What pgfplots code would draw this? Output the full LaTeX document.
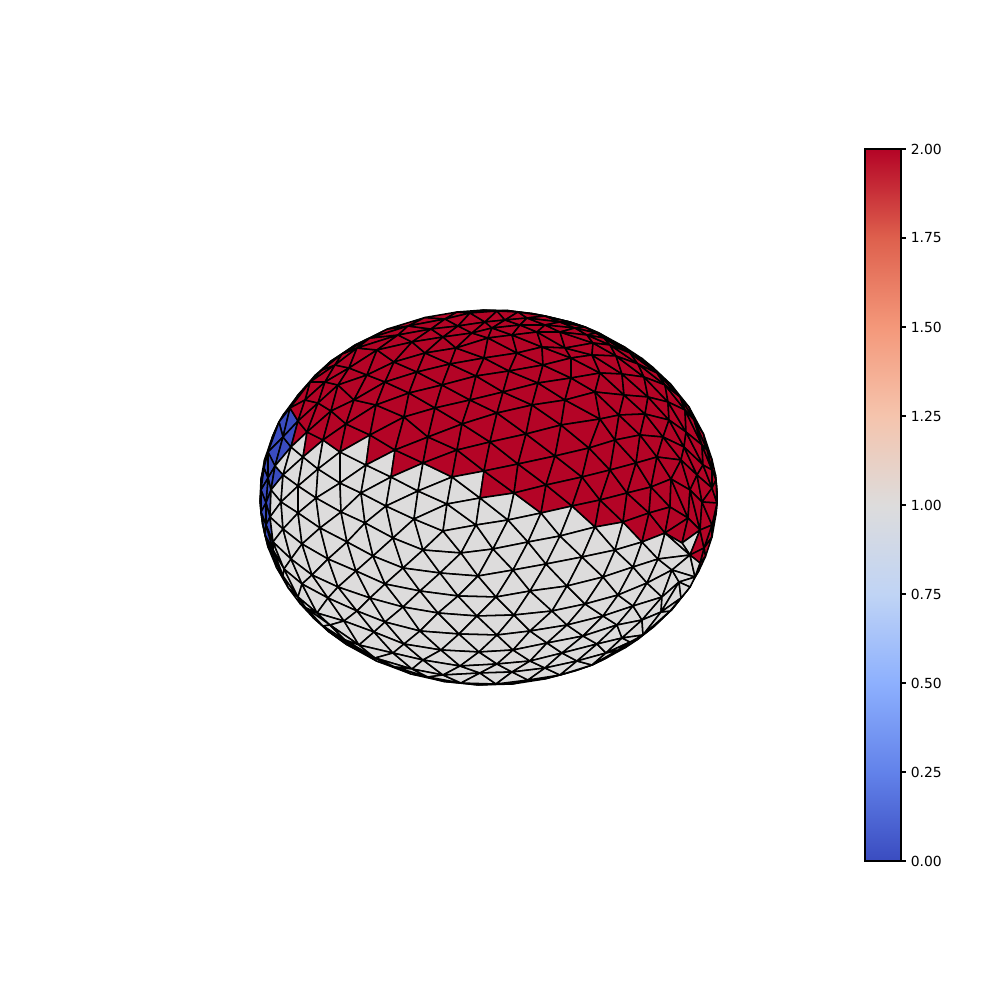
\documentclass[border=0pt]{standalone}
\usepackage{fontspec}
\setmainfont{DejaVu Sans}
\usepackage{pgfplots}
\pgfplotsset{compat=1.18}
\usepackage{pgfplotstable}
\pgfplotsset{colormap={coolwarmcm}{rgb255=(58,76,192) rgb255=(98,130,234) rgb255=(141,176,254) rgb255=(192,212,245) rgb255=(221,220,220) rgb255=(245,196,173) rgb255=(244,152,122) rgb255=(222,96,77) rgb255=(180,4,38)}}
\begin{document}
\begin{tikzpicture}
\path[use as bounding box] (0,0) rectangle (10in,10in);
\begin{axis}[
  at={(0,0)},anchor=south west,
  scale only axis,width=10in,height=10in,
  xmin=0,xmax=1000,ymin=0,ymax=1000,y dir=reverse,
  hide axis,clip=false,
  colormap name=coolwarmcm,point meta min=0,point meta max=2,
]
\addplot[patch,patch type=triangle,shader=faceted,faceted color=black,line width=1.1bp,
  table/row sep=\\,
  patch table with point meta={
0 1 302 2\\ 1 302 303 2\\ 1 2 303 2\\ 2 303 304 2\\ 2 3 304 2\\ 3 304 305 2\\ 3 4 305 2\\ 4 305 306 2\\ 4 5 306 2\\ 5 306 307 2\\ 5 6 307 2\\ 6 307 308 2\\ 6 7 308 2\\ 7 308 309 2\\ 7 8 309 2\\ 8 309 310 2\\ 8 9 310 2\\ 9 310 311 2\\ 9 20 311 2\\ 20 311 312 2\\ 20 35 312 2\\ 35 312 313 2\\ 35 52 313 2\\ 52 313 314 2\\ 52 68 314 2\\ 68 314 315 2\\ 68 83 315 2\\ 83 315 316 2\\ 83 98 316 2\\ 98 316 317 2\\ 98 113 317 2\\ 113 317 318 2\\ 113 128 318 2\\ 128 318 319 2\\ 128 142 319 2\\ 142 319 320 2\\ 142 156 320 2\\ 156 320 321 2\\ 156 169 321 2\\ 169 321 322 2\\ 169 180 322 2\\ 180 322 323 2\\ 180 301 323 2\\ 301 323 324 2\\ 301 214 324 2\\ 214 324 325 2\\ 214 230 325 1\\ 230 325 326 1\\ 230 246 326 1\\ 246 326 327 1\\ 246 261 327 1\\ 261 327 328 1\\ 261 274 328 1\\ 274 328 329 1\\ 274 273 329 1\\ 273 329 330 1\\ 273 285 330 1\\ 285 330 331 1\\ 285 295 331 1\\ 295 331 332 1\\ 295 294 332 1\\ 294 332 333 1\\ 294 293 333 1\\ 293 333 334 1\\ 293 292 334 1\\ 292 334 335 1\\ 292 291 335 1\\ 291 335 336 1\\ 291 290 336 1\\ 290 336 337 1\\ 290 289 337 1\\ 289 337 338 1\\ 289 288 338 1\\ 288 338 339 1\\ 288 287 339 1\\ 287 339 340 1\\ 287 286 340 1\\ 286 340 341 1\\ 286 275 341 1\\ 275 341 342 1\\ 275 262 342 1\\ 262 342 343 1\\ 262 248 343 1\\ 248 343 344 1\\ 248 247 344 1\\ 247 344 345 1\\ 247 300 345 1\\ 300 345 346 1\\ 300 299 346 0\\ 299 346 347 0\\ 299 298 347 0\\ 298 347 348 0\\ 298 297 348 0\\ 297 348 349 0\\ 297 296 349 0\\ 296 349 350 0\\ 296 36 350 0\\ 36 350 351 0\\ 36 21 351 0\\ 21 351 352 0\\ 21 22 352 0\\ 22 352 353 0\\ 22 10 353 2\\ 10 353 354 2\\ 10 0 354 2\\ 0 354 302 2\\
10 11 0 2\\ 0 1 11 2\\ 1 11 12 2\\ 1 2 12 2\\ 2 12 13 2\\ 2 3 13 2\\ 3 13 14 2\\ 3 4 14 2\\ 4 14 15 2\\ 4 5 15 2\\ 5 15 16 2\\ 5 6 16 2\\ 6 16 17 2\\ 6 7 17 2\\ 7 17 18 2\\ 7 8 18 2\\ 8 18 19 2\\ 8 9 19 2\\ 9 19 20 2\\
10 11 24 2\\ 11 24 25 2\\ 11 12 25 2\\ 12 25 26 2\\ 12 13 26 2\\ 13 26 27 2\\ 13 14 27 2\\ 14 27 28 2\\ 14 15 28 2\\ 15 28 29 2\\ 15 16 29 2\\ 16 29 30 2\\ 16 17 30 2\\ 17 30 31 2\\ 17 18 31 2\\ 18 31 32 2\\ 18 19 32 2\\ 19 32 33 2\\ 19 20 33 2\\ 20 33 34 2\\ 20 34 35 2\\ 23 24 10 2\\ 22 23 10 2\\
21 22 37 0\\ 22 37 38 0\\ 22 23 38 2\\ 23 38 39 2\\ 23 24 39 2\\ 24 39 40 2\\ 24 25 40 2\\ 25 40 41 2\\ 25 26 41 2\\ 26 41 42 2\\ 26 27 42 2\\ 27 42 43 2\\ 27 28 43 2\\ 28 43 44 2\\ 28 29 44 2\\ 29 44 45 2\\ 29 30 45 2\\ 30 45 46 2\\ 30 31 46 2\\ 31 46 47 2\\ 31 32 47 2\\ 32 47 48 2\\ 32 33 48 2\\ 33 48 49 2\\ 33 34 49 2\\ 34 49 50 2\\ 34 35 50 2\\ 35 50 51 2\\ 35 51 52 2\\ 36 37 21 0\\
36 37 53 0\\ 37 53 54 0\\ 37 38 54 0\\ 38 54 55 2\\ 38 39 55 2\\ 39 55 56 2\\ 39 40 56 2\\ 40 56 57 2\\ 40 41 57 2\\ 41 57 58 2\\ 41 42 58 2\\ 42 58 59 2\\ 42 43 59 2\\ 43 59 60 2\\ 43 44 60 2\\ 44 60 61 2\\ 44 45 61 2\\ 45 61 62 2\\ 45 46 62 2\\ 46 62 63 2\\ 46 47 63 2\\ 47 63 64 2\\ 47 48 64 2\\ 48 64 65 2\\ 48 49 65 2\\ 49 65 66 2\\ 49 50 66 2\\ 50 66 67 2\\ 50 51 67 2\\ 51 67 68 2\\ 51 52 68 2\\
53 54 69 1\\ 54 69 70 1\\ 54 55 70 1\\ 55 70 71 2\\ 55 56 71 2\\ 56 71 72 2\\ 56 57 72 2\\ 57 72 73 2\\ 57 58 73 2\\ 58 73 74 2\\ 58 59 74 2\\ 59 74 75 2\\ 59 60 75 2\\ 60 75 76 2\\ 60 61 76 2\\ 61 76 77 2\\ 61 62 77 2\\ 62 77 78 2\\ 62 63 78 2\\ 63 78 79 2\\ 63 64 79 2\\ 64 79 80 2\\ 64 65 80 2\\ 65 80 81 2\\ 65 66 81 2\\ 66 81 82 2\\ 66 67 82 2\\ 67 82 83 2\\ 67 68 83 2\\
69 70 84 1\\ 70 84 85 1\\ 70 71 85 1\\ 71 85 86 1\\ 71 72 86 2\\ 72 86 87 2\\ 72 73 87 2\\ 73 87 88 2\\ 73 74 88 2\\ 74 88 89 2\\ 74 75 89 2\\ 75 89 90 2\\ 75 76 90 2\\ 76 90 91 2\\ 76 77 91 2\\ 77 91 92 2\\ 77 78 92 2\\ 78 92 93 2\\ 78 79 93 2\\ 79 93 94 2\\ 79 80 94 2\\ 80 94 95 2\\ 80 81 95 2\\ 81 95 96 2\\ 81 82 96 2\\ 82 96 97 2\\ 82 83 97 2\\ 83 97 98 2\\
84 85 99 1\\ 85 99 100 1\\ 85 86 100 1\\ 86 100 101 1\\ 86 87 101 1\\ 87 101 102 2\\ 87 88 102 2\\ 88 102 103 2\\ 88 89 103 2\\ 89 103 104 2\\ 89 90 104 2\\ 90 104 105 2\\ 90 91 105 2\\ 91 105 106 2\\ 91 92 106 2\\ 92 106 107 2\\ 92 93 107 2\\ 93 107 108 2\\ 93 94 108 2\\ 94 108 109 2\\ 94 95 109 2\\ 95 109 110 2\\ 95 96 110 2\\ 96 110 111 2\\ 96 97 111 2\\ 97 111 112 2\\ 97 98 112 2\\ 98 112 113 2\\
99 100 114 1\\ 100 114 115 1\\ 100 101 115 1\\ 101 115 116 1\\ 101 102 116 1\\ 102 116 117 2\\ 102 103 117 2\\ 103 117 118 2\\ 103 104 118 2\\ 104 118 119 2\\ 104 105 119 2\\ 105 119 120 2\\ 105 106 120 2\\ 106 120 121 2\\ 106 107 121 2\\ 107 121 122 2\\ 107 108 122 2\\ 108 122 123 2\\ 108 109 123 2\\ 109 123 124 2\\ 109 110 124 2\\ 110 124 125 2\\ 110 111 125 2\\ 111 125 126 2\\ 111 112 126 2\\ 112 126 127 2\\ 112 113 127 2\\ 113 127 128 2\\
114 115 129 1\\ 115 129 130 1\\ 115 116 130 1\\ 116 130 131 1\\ 116 117 131 1\\ 117 131 132 1\\ 117 118 132 2\\ 118 132 133 2\\ 118 119 133 2\\ 119 133 134 2\\ 119 120 134 2\\ 120 134 135 2\\ 120 121 135 2\\ 121 135 136 2\\ 121 122 136 2\\ 122 136 137 2\\ 122 123 137 2\\ 123 137 138 2\\ 123 124 138 2\\ 124 138 139 2\\ 124 125 139 2\\ 125 139 140 2\\ 125 126 140 2\\ 126 140 141 2\\ 126 127 141 2\\ 127 141 142 2\\ 127 128 142 2\\
129 130 143 1\\ 130 143 144 1\\ 130 131 144 1\\ 131 144 145 1\\ 131 132 145 1\\ 132 145 146 1\\ 132 133 146 1\\ 133 146 147 2\\ 133 134 147 2\\ 134 147 148 2\\ 134 135 148 2\\ 135 148 149 2\\ 135 136 149 2\\ 136 149 150 2\\ 136 137 150 2\\ 137 150 151 2\\ 137 138 151 2\\ 138 151 152 2\\ 138 139 152 2\\ 139 152 153 2\\ 139 140 153 2\\ 140 153 154 2\\ 140 141 154 2\\ 141 154 155 2\\ 141 142 155 2\\ 142 155 156 2\\
143 144 157 1\\ 144 157 158 1\\ 144 145 158 1\\ 145 158 159 1\\ 145 146 159 1\\ 146 159 160 1\\ 146 147 160 1\\ 147 160 161 1\\ 147 148 161 2\\ 148 161 162 2\\ 148 149 162 2\\ 149 162 163 2\\ 149 150 163 2\\ 150 163 164 2\\ 150 151 164 2\\ 151 164 165 2\\ 151 152 165 2\\ 152 165 166 2\\ 152 153 166 2\\ 153 166 167 2\\ 153 154 167 2\\ 154 167 168 2\\ 154 155 168 2\\ 155 168 169 2\\ 155 156 169 2\\
157 158 170 1\\ 158 159 170 1\\ 159 170 171 1\\ 159 160 171 1\\ 160 171 172 1\\ 160 161 172 1\\ 161 172 173 1\\ 161 162 173 1\\ 162 173 174 1\\ 162 163 174 2\\ 163 174 175 2\\ 163 164 175 2\\ 164 175 176 2\\ 164 165 176 2\\ 165 176 177 2\\ 165 166 177 2\\ 166 177 178 2\\ 166 167 178 2\\ 167 178 179 2\\ 167 168 179 2\\ 168 179 180 2\\ 168 169 180 2\\
36 53 181 0\\ 53 181 182 0\\ 53 69 182 0\\ 69 182 183 1\\ 69 84 183 1\\ 84 183 184 1\\ 84 99 184 1\\ 99 184 185 1\\ 99 114 185 1\\ 114 185 186 1\\ 114 129 186 1\\ 129 186 187 1\\ 129 143 187 1\\ 143 187 188 1\\ 143 157 188 1\\ 157 188 189 1\\ 157 170 189 1\\ 170 189 190 1\\ 170 171 190 1\\ 171 190 191 1\\ 171 172 191 1\\ 172 191 192 1\\ 172 173 192 1\\ 173 192 193 1\\ 173 174 193 1\\ 174 193 194 1\\ 174 175 194 1\\ 175 194 195 1\\ 175 176 195 2\\ 176 195 196 2\\ 176 177 196 2\\ 177 178 196 2\\ 178 196 197 2\\ 178 179 197 2\\ 179 197 213 1\\ 179 213 301 2\\ 179 301 180 2\\ 213 301 214 2\\
181 182 198 0\\ 182 198 199 0\\ 182 183 199 1\\ 183 199 200 1\\ 183 184 200 1\\ 184 200 201 1\\ 184 185 201 1\\ 185 201 202 1\\ 185 186 202 1\\ 186 202 203 1\\ 186 187 203 1\\ 187 203 204 1\\ 187 188 204 1\\ 188 204 205 1\\ 188 189 205 1\\ 189 205 206 1\\ 189 190 206 1\\ 190 206 207 1\\ 190 191 207 1\\ 191 207 208 1\\ 191 192 208 1\\ 192 208 209 1\\ 192 193 209 1\\ 193 209 210 1\\ 193 194 210 1\\ 194 210 211 1\\ 194 195 211 1\\ 195 211 212 1\\ 195 196 212 1\\ 196 212 213 1\\ 196 197 213 1\\
198 199 215 0\\ 199 215 216 0\\ 199 200 216 1\\ 200 216 217 1\\ 200 201 217 1\\ 201 217 218 1\\ 201 202 218 1\\ 202 218 219 1\\ 202 203 219 1\\ 203 219 220 1\\ 203 204 220 1\\ 204 220 221 1\\ 204 205 221 1\\ 205 221 222 1\\ 205 206 222 1\\ 206 222 223 1\\ 206 207 223 1\\ 207 223 224 1\\ 207 208 224 1\\ 208 224 225 1\\ 208 209 225 1\\ 209 225 226 1\\ 209 210 226 1\\ 210 226 227 1\\ 210 211 227 1\\ 211 227 228 1\\ 211 212 228 1\\ 212 228 229 1\\ 212 213 229 1\\ 213 229 230 1\\ 213 214 230 1\\
215 216 231 0\\ 216 231 232 1\\ 216 217 232 1\\ 217 232 233 1\\ 217 218 233 1\\ 218 233 234 1\\ 218 219 234 1\\ 219 234 235 1\\ 219 220 235 1\\ 220 235 236 1\\ 220 221 236 1\\ 221 236 237 1\\ 221 222 237 1\\ 222 237 238 1\\ 222 223 238 1\\ 223 238 239 1\\ 223 224 239 1\\ 224 239 240 1\\ 224 225 240 1\\ 225 240 241 1\\ 225 226 241 1\\ 226 241 242 1\\ 226 227 242 1\\ 227 242 243 1\\ 227 228 243 1\\ 228 243 244 1\\ 228 229 244 1\\ 229 244 245 1\\ 229 230 245 1\\ 230 245 246 1\\
231 232 247 1\\ 232 247 248 1\\ 232 233 248 1\\ 233 248 249 1\\ 233 234 249 1\\ 234 249 250 1\\ 234 235 250 1\\ 235 250 251 1\\ 235 236 251 1\\ 236 251 252 1\\ 236 237 252 1\\ 237 252 253 1\\ 237 238 253 1\\ 238 253 254 1\\ 238 239 254 1\\ 239 254 255 1\\ 239 240 255 1\\ 240 255 256 1\\ 240 241 256 1\\ 241 256 257 1\\ 241 242 257 1\\ 242 257 258 1\\ 242 243 258 1\\ 243 258 259 1\\ 243 244 259 1\\ 244 259 260 1\\ 244 245 260 1\\ 245 260 261 1\\ 245 246 261 1\\
248 249 262 1\\ 249 262 263 1\\ 249 250 263 1\\ 250 263 264 1\\ 250 251 264 1\\ 251 264 265 1\\ 251 252 265 1\\ 252 265 266 1\\ 252 253 266 1\\ 253 266 267 1\\ 253 254 267 1\\ 254 267 268 1\\ 254 255 268 1\\ 255 268 269 1\\ 255 256 269 1\\ 256 269 270 1\\ 256 257 270 1\\ 257 270 271 1\\ 257 258 271 1\\ 258 271 272 1\\ 258 259 272 1\\ 259 272 273 1\\ 259 260 273 1\\ 260 273 274 1\\ 260 261 274 1\\
262 263 275 1\\ 263 275 276 1\\ 263 264 276 1\\ 264 276 277 1\\ 264 265 277 1\\ 265 277 278 1\\ 265 266 278 1\\ 266 278 279 1\\ 266 267 279 1\\ 267 279 280 1\\ 267 268 280 1\\ 268 280 281 1\\ 268 269 281 1\\ 269 281 282 1\\ 269 270 282 1\\ 270 282 283 1\\ 270 271 283 1\\ 271 283 284 1\\ 271 272 284 1\\ 272 284 285 1\\ 272 273 285 1\\
275 276 286 1\\ 276 286 287 1\\ 276 277 287 1\\ 277 287 288 1\\ 277 278 288 1\\ 278 288 289 1\\ 278 279 289 1\\ 279 289 290 1\\ 279 280 290 1\\ 280 290 291 1\\ 280 281 291 1\\ 281 291 292 1\\ 281 282 292 1\\ 282 292 293 1\\ 282 283 293 1\\ 283 293 294 1\\ 283 284 294 1\\ 284 294 295 1\\ 284 285 295 1\\
36 181 296 0\\ 181 296 297 0\\ 181 198 297 0\\ 198 297 298 0\\ 198 215 298 0\\ 215 298 299 0\\ 215 231 299 0\\ 231 299 300 0\\ 231 247 300 0\\
  }]
table[row sep=\\,x=x,y=y] {
x y\\
322 370\\ 342 354\\ 370 338\\ 408 326\\ 445 319\\ 470 313\\ 497 311\\ 518 312\\ 545 316\\ 570 322\\
310 382\\ 335 365\\ 357 348\\ 398 335\\ 431 329\\ 458 326\\ 485 322\\ 505 320\\ 527 318\\ 560 322\\ 585 327\\
279 422\\ 290 408\\ 305 400\\ 325 382\\ 349 368\\ 377 350\\ 412 342\\ 443 337\\ 472 333\\ 492 328\\ 520 325\\ 545 325\\ 575 328\\ 596 333\\ 612 341\\
268 452\\ 283 437\\ 298 421\\ 318 403\\ 338 385\\ 367 375\\ 394 362\\ 425 353\\ 456 348\\ 488 338\\ 512 335\\ 537 332\\ 560 332\\ 587 335\\ 604 338\\ 618 347\\ 634 356\\
275 466\\ 291 447\\ 307 432\\ 331 411\\ 354 400\\ 385 382\\ 417 372\\ 450 364\\ 484 358\\ 517 353\\ 542 347\\ 565 348\\ 593 343\\ 610 345\\ 630 353\\ 647 364\\
283 475\\ 303 457\\ 323 440\\ 346 424\\ 376 405\\ 409 393\\ 442 385\\ 476 376\\ 509 371\\ 543 365\\ 571 358\\ 592 355\\ 616 356\\ 638 364\\ 657 373\\
298 486\\ 318 469\\ 340 452\\ 370 435\\ 404 417\\ 435 408\\ 470 400\\ 503 392\\ 538 383\\ 571 378\\ 600 373\\ 622 374\\ 644 377\\ 665 385\\ 680 397\\
316 498\\ 340 483\\ 366 465\\ 395 450\\ 428 437\\ 462 424\\ 497 413\\ 532 405\\ 565 400\\ 595 392\\ 624 395\\ 648 397\\ 668 402\\ 685 410\\ 694 420\\
341 512\\ 361 493\\ 391 477\\ 423 463\\ 457 450\\ 490 442\\ 526 434\\ 561 425\\ 600 419\\ 619 415\\ 645 414\\ 669 420\\ 686 432\\ 702 445\\ 707 450\\
365 523\\ 386 506\\ 418 491\\ 452 477\\ 484 471\\ 518 464\\ 555 456\\ 589 448\\ 615 440\\ 640 435\\ 663 437\\ 684 447\\ 703 465\\ 712 470\\
393 538\\ 414 519\\ 447 504\\ 480 498\\ 514 493\\ 546 485\\ 582 477\\ 610 470\\ 636 463\\ 657 457\\ 681 460\\ 697 475\\ 712 488\\ 716 480\\
423 550\\ 443 531\\ 476 525\\ 508 520\\ 541 513\\ 572 506\\ 600 500\\ 627 493\\ 651 487\\ 671 479\\ 690 490\\ 702 502\\ 717 503\\
461 553\\ 493 549\\ 528 542\\ 560 536\\ 595 527\\ 623 522\\ 649 513\\ 670 507\\ 688 518\\ 700 530\\ 712 525\\
268 478\\ 271 490\\ 281 502\\ 298 513\\ 320 528\\ 347 542\\ 373 556\\ 403 568\\ 440 573\\ 478 576\\ 513 570\\ 546 564\\ 582 557\\ 615 550\\ 642 542\\ 665 533\\ 682 543\\
266 503\\ 270 517\\ 283 529\\ 302 544\\ 328 559\\ 356 571\\ 385 584\\ 420 591\\ 458 596\\ 496 597\\ 530 591\\ 567 586\\ 603 577\\ 633 567\\ 658 559\\ 690 555\\ 700 563\\
266 525\\ 273 542\\ 291 559\\ 312 575\\ 338 587\\ 370 598\\ 403 607\\ 438 613\\ 477 616\\ 514 615\\ 552 611\\ 585 604\\ 618 595\\ 647 583\\ 672 570\\ 695 577\\
273 550\\ 284 569\\ 302 584\\ 328 598\\ 357 611\\ 385 622\\ 420 631\\ 459 634\\ 497 635\\ 530 631\\ 567 625\\ 603 616\\ 633 606\\ 662 597\\ 679 582\\ 690 587\\
283 576\\ 298 597\\ 317 613\\ 344 621\\ 374 632\\ 404 644\\ 441 650\\ 479 652\\ 513 650\\ 547 643\\ 583 636\\ 617 625\\ 642 620\\ 661 612\\ 681 598\\
306 608\\ 330 625\\ 359 645\\ 393 653\\ 423 660\\ 460 666\\ 497 664\\ 530 661\\ 562 653\\ 597 644\\ 622 638\\ 643 635\\ 670 611\\
323 626\\ 345 640\\ 375 658\\ 412 669\\ 443 675\\ 480 673\\ 512 672\\ 545 668\\ 577 661\\ 606 653\\ 630 642\\
335 636\\ 360 651\\ 395 667\\ 428 677\\ 461 683\\ 496 684\\ 528 680\\ 560 675\\ 592 665\\ 618 650\\
264 468\\ 261 490\\ 261 512\\ 265 535\\ 274 558\\
704 548\\
331 361\\ 355 345\\ 387.5 329\\ 425 317.5\\ 457 312\\ 483.5 310\\ 507.5 310.5\\ 532 313.5\\ 557.5 319\\ 577.5 324.5\\ 599 333\\ 624.5 347\\ 642 358.5\\ 653 367.5\\ 670.5 384\\ 689 407\\ 703.5 434\\ 712 459.5\\ 715.5 475\\ 717 491.5\\ 716 514\\ 712 537\\ 705.5 556.5\\ 699 570.5\\ 692 582.5\\ 684 594.5\\ 672 609.5\\ 654 626.5\\ 637.5 639.5\\ 625.5 647.5\\ 605.5 658.5\\ 576 670.5\\ 544.5 679\\ 512.5 684\\ 478.5 685\\ 444 681.5\\ 411 674\\ 376.5 661\\ 346.5 644.5\\ 328.5 631.5\\ 313.5 618\\ 300 603.5\\ 288 587.5\\ 276.5 567.5\\ 268 547\\ 262.5 523.5\\ 260 501\\ 261 479\\ 264.5 460\\ 272.5 436.5\\ 283.5 414.5\\ 298 395\\ 315 375.5\\
};
\end{axis}
\begin{axis}[
  at={(8.65in,1.39in)},anchor=south west,
  scale only axis,width=0.36in,height=7.12in,
  xmin=0,xmax=1,ymin=0,ymax=2,
  xtick=\empty,
  ytick={0,0.25,0.5,0.75,1,1.25,1.5,1.75,2},
  ytick pos=right,tick align=outside,
  axis on top,
  colormap name=coolwarmcm,point meta min=0,point meta max=2,
  tick style={black,line width=0.8bp},
  major tick length=3.5bp,
  axis line style={black,line width=0.8bp},
  yticklabel style={font=\fontsize{10bp}{12bp}\selectfont,/pgf/number format/fixed,/pgf/number format/fixed zerofill,/pgf/number format/precision=2,/pgf/number format/assume math mode=true},
]
\addplot[surf,shader=interp,mesh/rows=9,point meta=\thisrow{y}] table[row sep=\\,x=x,y=y] {
x y\\
0 0\\ 1 0\\ 0 0.25\\ 1 0.25\\ 0 0.5\\ 1 0.5\\ 0 0.75\\ 1 0.75\\ 0 1\\ 1 1\\ 0 1.25\\ 1 1.25\\ 0 1.5\\ 1 1.5\\ 0 1.75\\ 1 1.75\\ 0 2\\ 1 2\\
};
\end{axis}
\end{tikzpicture}
\end{document}
